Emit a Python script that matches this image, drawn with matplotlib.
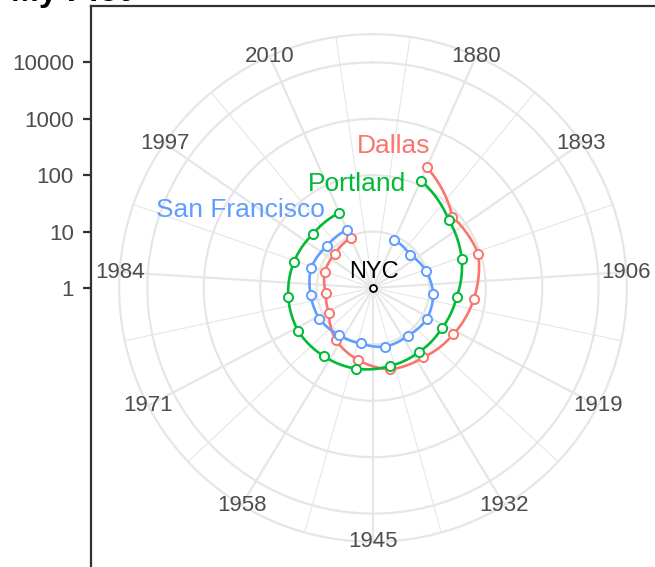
import numpy as np
import matplotlib
matplotlib.use("Agg")
import matplotlib.pyplot as plt

# ---------------- data ----------------
years = [1880, 1890, 1900, 1910, 1920, 1930, 1940, 1950, 1960, 1970, 1980, 1990, 2000, 2010]
dallas = [221, 78, 92, 63, 44, 33, 30, 20, 13.5, 7.9, 6.9, 8.0, 8.1, 9.4]
portland = [122, 64, 45, 31, 26, 25, 26, 29, 31, 34, 32.5, 30, 27, 29]
san_francisco = [8.6, 7.6, 9.7, 11.9, 12.7, 11.1, 11.6, 10.1, 10.7, 12.5, 12.9, 14.3, 12.8, 13.5]
nyc_year = [1880]
nyc_value = [1]

series_names = ["Dallas", "Portland", "San Francisco"]
series_values = [dallas, portland, san_francisco]
series_colors = ["#F8766D", "#00BA38", "#619CFF"]

theta_breaks = [1880, 1893, 1906, 1919, 1932, 1945, 1958, 1971, 1984, 1997, 2010]
theta_minor = [1873.5, 1886.5, 1899.5, 1912.5, 1925.5, 1938.5, 1951.5, 1964.5,
               1977.5, 1990.5, 2003.5, 2016.5]
theta_range = (1870, 2020)
r_breaks = [1, 10, 100, 1000, 10000]
r_labels = ["1", "10", "100", "1000", "10000"]

# ---------------- layout ----------------
W, H, DPI = 655, 567, 100
fig = plt.figure(figsize=(W / DPI, H / DPI), dpi=DPI)
fig.patch.set_facecolor("white")

panel_left, panel_top, panel_size = 91, 6, 564   # pixels
cx = panel_left + panel_size / 2
cy = H - (panel_top + panel_size / 2)
R_outer = 0.45 * panel_size
decades_panel = 5.0          # half panel = 5 decades (r 0.4 <-> 4 decades)
r_outer_val = 10 ** 4.5

GRID = "#E6E6E6"
AX_TXT = "#4D4D4D"
AX_LINE = "#333333"

# left radial axis (cartesian, log)
axl = fig.add_axes([panel_left / W, (H - panel_top - panel_size) / H,
                    panel_size / W, panel_size / H])
axl.set_facecolor("none")
axl.set_yscale("log")
axl.set_ylim(10 ** -decades_panel, 10 ** decades_panel)
axl.set_yticks(r_breaks)
axl.set_yticklabels(r_labels)
axl.yaxis.set_minor_locator(matplotlib.ticker.NullLocator())
axl.set_xticks([])
for s in ["right", "bottom"]:
    axl.spines[s].set_visible(False)
for s in ["left", "top"]:
    axl.spines[s].set_color(AX_LINE)
    axl.spines[s].set_linewidth(1.6)
axl.tick_params(axis="y", length=5.8, width=1.6, color=AX_LINE, pad=6.5,
                labelsize=16, labelcolor=AX_TXT)
for t in axl.get_yticklabels():
    t.set_fontfamily("Liberation Sans")

# polar panel
ax = fig.add_axes([(cx - R_outer) / W, (cy - R_outer) / H, 2 * R_outer / W, 2 * R_outer / H],
                  projection="polar")
ax.set_facecolor("none")
ax.set_theta_zero_location("N")
ax.set_theta_direction(-1)
ax.set_rscale("log")
ax.set_rlim(1, r_outer_val)


def to_theta(y):
    y = np.asarray(y, dtype=float)
    return (y - theta_range[0]) / (theta_range[1] - theta_range[0]) * 2 * np.pi


ax.set_xticks(to_theta(theta_breaks))
ax.set_xticks(to_theta(theta_minor), minor=True)
ax.set_xticklabels([])
ax.tick_params(axis="x", which="both", length=0)
ax.set_yticks(r_breaks[1:])
ax.set_yticklabels([])
ax.yaxis.set_minor_locator(matplotlib.ticker.NullLocator())
ax.tick_params(axis="y", length=0)
ax.xaxis.grid(True, which="major", color=GRID, linewidth=1.6)
ax.xaxis.grid(True, which="minor", color=GRID, linewidth=0.8)
ax.yaxis.grid(True, which="major", color=GRID, linewidth=1.6)
ax.spines["polar"].set_color(GRID)
ax.spines["polar"].set_linewidth(1.6)
ax.set_axisbelow(True)

for yr in theta_breaks:
    ax.text(to_theta(yr), r_outer_val, str(yr), ha="center", va="center",
            fontsize=16, color=AX_TXT, family="Liberation Sans", clip_on=False)

# series
label_offsets = {"Dallas": (-23.8, 9.9), "Portland": (-46.1, -7.7),
                 "San Francisco": (-110.7, 16.3)}
for name, vals, col in zip(series_names, series_values, series_colors):
    th = to_theta(years)
    (ln,) = ax.plot(th, vals, color=col, linewidth=1.9, zorder=3,
                    solid_capstyle="butt")
    ln.get_path()._interpolation_steps = 40   # curved segments, like coord_polar
    ax.plot(th, vals, linestyle="none", marker="o", markersize=6.6,
            markerfacecolor="white", markeredgecolor=col, markeredgewidth=1.4, zorder=4)
    dx, dy = label_offsets[name]
    ax.annotate(name, xy=(th[0], vals[0]), xytext=(dx, dy), textcoords="offset points",
                ha="center", va="baseline", fontsize=19, color=col,
                family="Liberation Sans", zorder=5)

ax.plot(to_theta(nyc_year), nyc_value, linestyle="none", marker="o", markersize=5,
        markerfacecolor="white", markeredgecolor="black", markeredgewidth=1.3, zorder=4)
ax.annotate("NYC", xy=(to_theta(nyc_year)[0], nyc_value[0]), xytext=(0.9, 7.2),
            textcoords="offset points", ha="center", va="baseline", fontsize=17,
            color="black", family="Liberation Sans", zorder=5)

# title (mostly cropped at the top edge, as in the reference)
fig.text(11 / W, 1 - 1 / H, "My Plot", ha="left", va="baseline", fontsize=24,
         fontweight="bold", family="Liberation Sans", color="black")

fig.savefig("out.png", dpi=DPI)
